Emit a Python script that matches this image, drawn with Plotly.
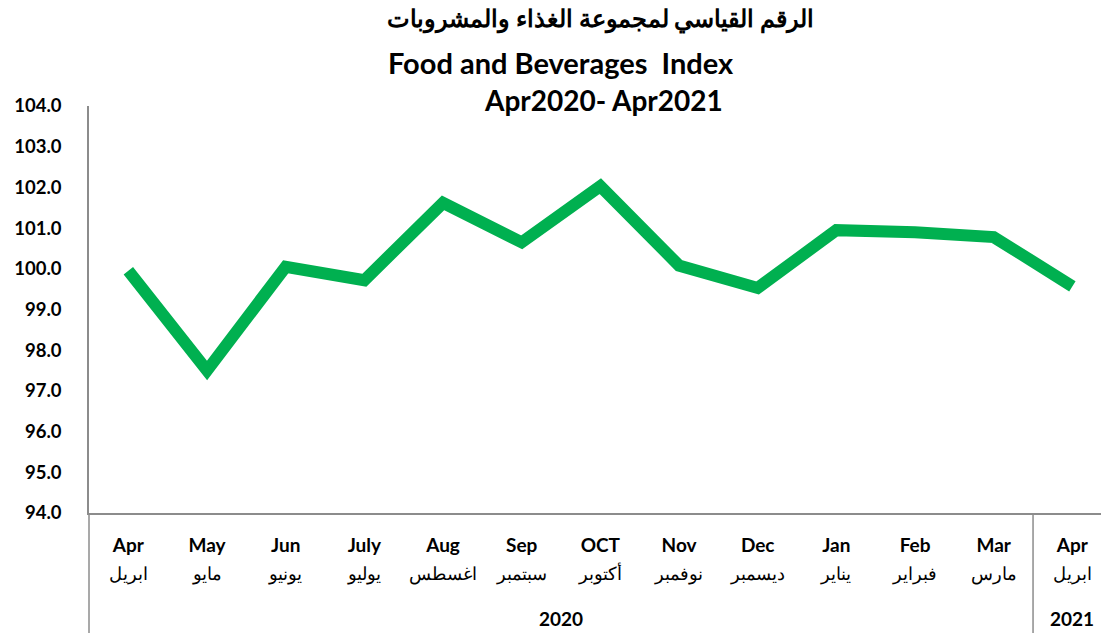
import plotly.graph_objects as go

months_en = ["Apr", "May", "Jun", "July", "Aug", "Sep", "OCT", "Nov", "Dec", "Jan", "Feb", "Mar", "Apr"]
months_ar = ["ابريل", "مايو", "يونيو", "يوليو", "اغسطس", "سبتمبر", "أكتوبر", "نوفمبر", "ديسمبر", "يناير", "فبراير", "مارس", "ابريل"]
years = ["2020", "2021"]
year_spans = [(0, 11), (12, 12)]
values = [99.95, 97.5, 100.05, 99.72, 101.62, 100.65, 102.03, 100.08, 99.53, 100.95, 100.9, 100.78, 99.57]
y_ticks = [94, 95, 96, 97, 98, 99, 100, 101, 102, 103, 104]

FONT = "Lato, sans-serif"
AXIS_GRAY = "#8c8c8c"

x = list(range(len(values)))
ticktext = [
    f"<span style='font-size:19px'><b>{e}</b></span><br>"
    f"<span style='font-size:18px'>{a}</span>"
    for e, a in zip(months_en, months_ar)
]

fig = go.Figure()
fig.add_trace(go.Scatter(
    x=x, y=values, mode="lines",
    line=dict(color="#00b050", width=12),
    hoverinfo="skip", showlegend=False,
))

W, H = 1101, 633
L, R, T, B = 89, 0, 106, 120
pw, ph = W - L - R, H - T - B

titles = [
    ("<b>الرقم القياسي لمجموعة الغذاء والمشروبات</b>", 600, 18, FONT, 24),
    ("<b>Food and Beverages  Index</b>", 561, 62, FONT, 29),
    ("<b>Apr2020- Apr2021</b>", 603, 100, FONT, 28),
]
anns = []
for text, px, py, fam, size in titles:
    anns.append(dict(
        text=text, xref="paper", yref="paper",
        x=(px - L) / pw, y=(H - B - py) / ph,
        xanchor="center", yanchor="middle", showarrow=False,
        font=dict(family=fam, size=size, color="black"),
    ))
for yr, (s, e) in zip(years, year_spans):
    anns.append(dict(
        text=f"<b>{yr}</b>", xref="x", yref="paper",
        x=(s + e) / 2, y=-105 / ph, xanchor="center", yanchor="middle",
        showarrow=False, font=dict(family=FONT, size=19, color="black"),
    ))

shapes = [
    dict(type="line", xref="paper", yref="paper", x0=0, x1=0, y0=-B / ph, y1=0,
         line=dict(color=AXIS_GRAY, width=1.5)),
    dict(type="line", xref="x", yref="paper", x0=11.5, x1=11.5, y0=-B / ph, y1=0,
         line=dict(color=AXIS_GRAY, width=1.5)),
]

fig.update_layout(
    width=W, height=H,
    margin=dict(l=L, r=R, t=T, b=B),
    plot_bgcolor="white", paper_bgcolor="white",
    annotations=anns, shapes=shapes,
    xaxis=dict(
        range=[-0.5, -0.5 + pw / 78.67],
        tickmode="array", tickvals=x, ticktext=ticktext,
        tickfont=dict(family=FONT, size=21, color="black"),
        showgrid=False, zeroline=False, showline=True, linecolor=AXIS_GRAY, linewidth=2,
        ticks="", tickangle=0, ticklabelstandoff=12,
    ),
    yaxis=dict(
        range=[94, 104],
        tickmode="array", tickvals=y_ticks, ticktext=[f"<b>{v:.1f}</b>" for v in y_ticks],
        tickfont=dict(family=FONT, size=18.5, color="black"),
        showgrid=False, zeroline=False, showline=True, linecolor=AXIS_GRAY, linewidth=1.5,
        ticks="", ticklabelstandoff=22,
    ),
)

fig.write_html("out.html")
